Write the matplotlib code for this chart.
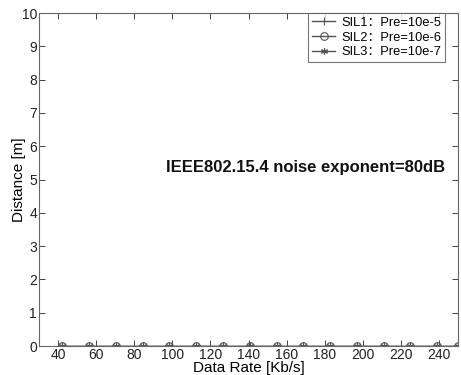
import matplotlib
matplotlib.use("Agg")
import matplotlib.pyplot as plt

plt.rcParams['font.family'] = ['Liberation Sans', 'Noto Sans CJK SC', 'DejaVu Sans']

data_rate = [42.2, 56.2, 70.3, 84.4, 98.4, 112.5, 126.6, 140.6, 154.7,
             168.8, 182.8, 196.9, 210.9, 225.0, 239.1, 250.0]
sil1 = [0] * len(data_rate)
sil2 = [0] * len(data_rate)
sil3 = [0] * len(data_rate)
labels = ['SIL1：Pre=10e-5', 'SIL2：Pre=10e-6', 'SIL3：Pre=10e-7']
xticks = [40, 60, 80, 100, 120, 140, 160, 180, 200, 220, 240]
yticks = list(range(0, 11))

fig = plt.figure(figsize=(4.61, 3.75), dpi=100)
ax = fig.add_axes([0.0846, 0.0773, 0.909, 0.888])

col = '#555555'
ax.plot(data_rate, sil1, '-', marker='+', color=col, lw=1.0, ms=6, mew=0.8, label=labels[0])
ax.plot(data_rate, sil2, '-', marker='o', color=col, lw=1.0, ms=5.5, mew=0.8,
        mfc='none', label=labels[1])
ax.plot(data_rate, sil3, '-', marker=(6, 2, 0), color=col, lw=1.0, ms=5, mew=0.8, label=labels[2])

ax.set_xlim(30, 250)
ax.set_ylim(0, 10)
ax.set_xticks(xticks)
ax.set_yticks(yticks)
ax.tick_params(direction='in', top=True, right=True, length=4, width=0.6,
               colors='#222222', labelsize=10, pad=1.5)
for s in ax.spines.values():
    s.set_color('#666666')
    s.set_linewidth(0.8)

ax.set_xlabel('Data Rate [Kb/s]', fontsize=11, labelpad=-0.5)
ax.set_ylabel('Distance [m]', fontsize=11, labelpad=-3)

ax.text(96.7, 5.35, 'IEEE802.15.4 noise exponent=80dB', fontsize=12,
        fontweight='bold', ha='left', va='center', color='#111111')

leg = ax.legend(loc='upper right', fontsize=9.3, frameon=True, fancybox=False,
                edgecolor='#555555', borderpad=0.3, labelspacing=0.2,
                handlelength=1.8, handletextpad=0.5, borderaxespad=0.0,
                bbox_to_anchor=(0.97, 1.0))
leg.get_frame().set_linewidth(0.8)

fig.savefig('out.png', dpi=100)
